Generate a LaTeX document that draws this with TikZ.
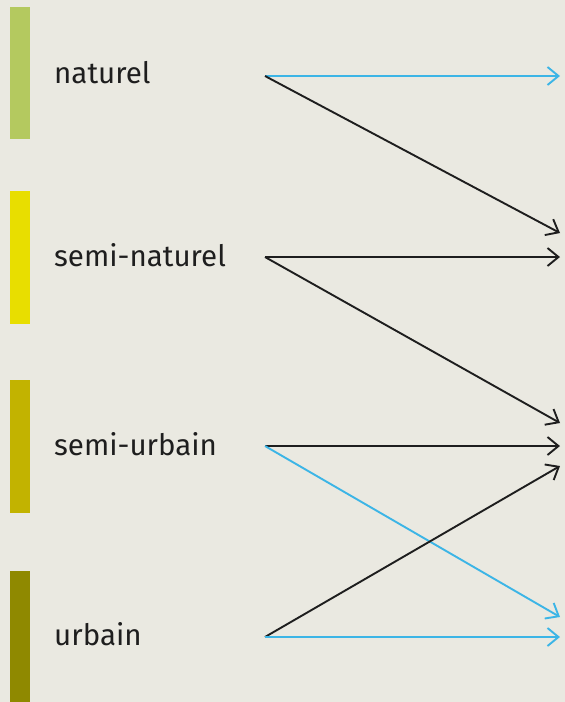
\documentclass[tikz,border=0pt]{standalone}
\usepackage{fontspec}
\setmainfont{Fira Sans}
\usetikzlibrary{arrows.meta}
\definecolor{bg}{HTML}{EAE9E1}
\definecolor{cnat}{HTML}{B4C95F}
\definecolor{csemnat}{HTML}{E8DE00}
\definecolor{csemurb}{HTML}{C2B300}
\definecolor{curb}{HTML}{8F8900}
\definecolor{cblue}{HTML}{3CB5E6}
\definecolor{cblack}{HTML}{1E1E1E}
\tikzset{
  bar/.style={fill=#1, draw=none, minimum width=20pt, inner sep=0pt, anchor=north west},
  lbl/.style={anchor=base west, inner sep=0pt, font=\fontsize{29.5}{30}\selectfont, text=cblack},
  flow/.style={line width=1.9pt, -{Straight Barb[length=11pt,width=18pt,line width=1.9pt]}},
  blk/.style={flow, draw=cblack},
  blu/.style={flow, draw=cblue}
}
\begin{document}
\begin{tikzpicture}[x=1pt,y=-1pt]
\fill[bg] (0,0) rectangle (565,702);
\useasboundingbox (0,0) rectangle (565,702);
% bars
\node[bar=cnat, minimum height=132pt] (b1) at (10,7) {};
\node[bar=csemnat, minimum height=133pt] (b2) at (10,191) {};
\node[bar=csemurb, minimum height=133pt] (b3) at (10,380) {};
\node[bar=curb, minimum height=131pt] (b4) at (10,571) {};
% labels
\node[lbl] (l1) at (54,83) {naturel};
\node[lbl] (l2) at (54,266) {semi-naturel};
\node[lbl] (l3) at (54,455) {semi-urbain};
\node[lbl] (l4) at (54,645) {urbain};
% sources
\coordinate (s1) at (265,76);
\coordinate (s2) at (265,257);
\coordinate (s3) at (265,446);
\coordinate (s4) at (265,637);
% targets
\coordinate (t1) at (560,76);
\coordinate (t2) at (560,233);
\coordinate (t3) at (560,257);
\coordinate (t4) at (560,423);
\coordinate (t5) at (560,446);
\coordinate (t6) at (560,466);
\coordinate (t7) at (560,617);
\coordinate (t8) at (560,637);
% arrows
\draw[blu] (s1) -- (t1);
\draw[blk] (s1) -- (t2);
\draw[blk] (s2) -- (t3);
\draw[blk] (s2) -- (t4);
\draw[blk] (s3) -- (t5);
\draw[blu] (s3) -- (t7);
\draw[blk] (s4) -- (t6);
\draw[blu] (s4) -- (t8);
\end{tikzpicture}
\end{document}
